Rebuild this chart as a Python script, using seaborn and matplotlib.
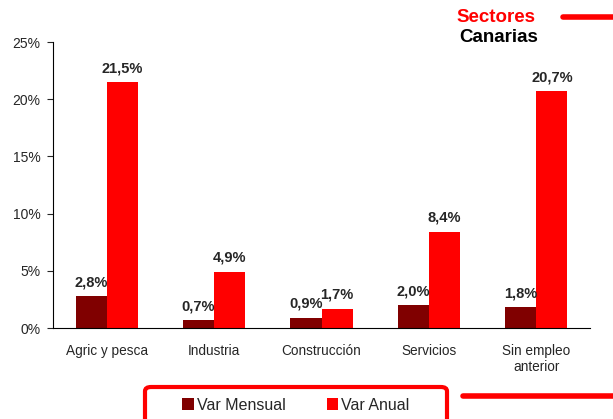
import matplotlib
matplotlib.use("Agg")
import matplotlib.pyplot as plt
import seaborn as sns
import pandas as pd
from matplotlib.patches import FancyBboxPatch, Patch
from matplotlib.lines import Line2D
from matplotlib.ticker import FuncFormatter

categories = ["Agric y pesca", "Industria", "Construcción", "Servicios", "Sin empleo\nanterior"]
var_mensual = [2.8, 0.7, 0.9, 2.0, 1.8]
var_anual = [21.5, 4.9, 1.7, 8.4, 20.7]
series_names = ["Var Mensual", "Var Anual"]
colors = ["#800000", "#FF0000"]

df = pd.DataFrame({
    "cat": categories * 2,
    "serie": [series_names[0]] * 5 + [series_names[1]] * 5,
    "val": var_mensual + var_anual,
})

sns.set_style("white")
plt.rcParams["font.family"] = ["Liberation Sans", "DejaVu Sans"]

fig = plt.figure(figsize=(6.13, 4.19), dpi=100)
ax = fig.add_axes([53/613, 1-328/419, (590-53)/613, (328-42)/419])
sns.barplot(data=df, x="cat", y="val", hue="serie", palette=colors,
            width=0.58, saturation=1, ax=ax, legend=False, gap=0,
            edgecolor="none", linewidth=0)

ax.set_ylim(0, 25)
ax.set_xlim(-0.5, 4.5)
ax.set_yticks([0, 5, 10, 15, 20, 25])
ax.yaxis.set_major_formatter(FuncFormatter(lambda v, p: f"{int(v)}%"))
ax.set_xlabel("")
ax.set_ylabel("")
for s in ["top", "right"]:
    ax.spines[s].set_visible(False)
for s in ["left", "bottom"]:
    ax.spines[s].set_color("black")
    ax.spines[s].set_linewidth(0.8)
ax.tick_params(axis="y", left=True, length=4, width=0.8, labelsize=10, pad=5)
ax.tick_params(axis="x", bottom=False, labelsize=9.8, pad=8)

for cont in ax.containers:
    for bar in cont:
        h = bar.get_height()
        ax.annotate(f"{h:.1f}%".replace(".", ","),
                    (bar.get_x() + bar.get_width()/2, h),
                    xytext=(0, 5), textcoords="offset points",
                    ha="center", va="bottom", fontsize=10.5, fontweight="bold")

# title texts
fig.text(535/613, 1-17/419, "Sectores", color="#FF0000", fontsize=13.5,
         fontweight="bold", ha="right", va="center")
fig.text(538/613, 1-38/419, "Canarias", color="black", fontsize=13.5,
         fontweight="bold", ha="right", va="center")
fig.add_artist(Line2D([563/613, 1.0], [1-17/419, 1-17/419], color="#FF0000", lw=4,
                      transform=fig.transFigure))
fig.add_artist(Line2D([463/613, 1.0], [1-396/419, 1-396/419], color="#FF0000", lw=4,
                      transform=fig.transFigure))

# legend box
box = FancyBboxPatch((145/613, -0.05), (447-145)/613, (0.05 + 1-387/419),
                     boxstyle="round,pad=0,rounding_size=0.01",
                     transform=fig.transFigure, fill=False,
                     edgecolor="#FF0000", lw=3)
fig.add_artist(box)
handles = [Patch(facecolor=c, edgecolor="none") for c in colors]
fig.legend(handles, series_names, loc="center", bbox_to_anchor=(296/613, 1-405/419),
           ncol=2, frameon=False, fontsize=11.5, handlelength=0.7, handleheight=0.7,
           handletextpad=0.2, columnspacing=2.6)

fig.savefig("out.png", dpi=100)
